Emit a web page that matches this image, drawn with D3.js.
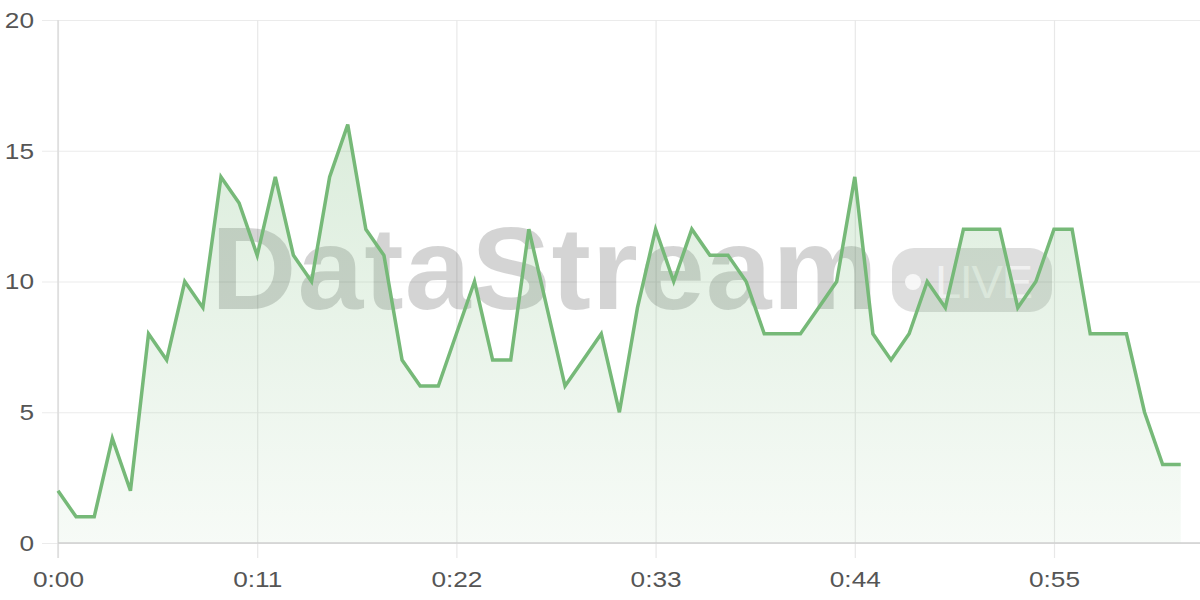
<!DOCTYPE html>
<html>
<head>
<meta charset="utf-8">
<script src="https://cdn.jsdelivr.net/npm/d3@7"></script>
<style>
  html, body { margin: 0; padding: 0; background: #fff; }
  svg { display: block; font-family: "Liberation Sans", Arial, Helvetica, sans-serif; }
</style>
</head>
<body>
<svg id="chart" width="1200" height="600"></svg>
<script>
// seconds since start
const seconds = d3.range(0, 63);
const values = [2, 1, 1, 4, 2, 8, 7, 10, 9, 14, 13, 11, 14, 11, 10, 14, 16, 12, 11, 7,
                6, 6, 8, 10, 7, 7, 12, 9, 6, 7, 8, 5, 9, 12, 10, 12, 11, 11, 10, 8,
                8, 8, 9, 10, 14, 8, 7, 8, 10, 9, 12, 12, 12, 9, 10, 12, 12, 8, 8, 8,
                5, 3, 3];
const xTicks = [0, 11, 22, 33, 44, 55];
const yTicks = [0, 5, 10, 15, 20];
const watermarkText = "DataStream";
const badgeText = "LIVE";

const data = seconds.map((s, i) => ({ s, v: values[i] }));

const svg = d3.select("#chart");
const x = d3.scaleLinear().domain([0, 63]).range([58, 58 + 63 * 18.109]);
const y = d3.scaleLinear().domain([0, 20]).range([543, 20]);

const fmt = s => Math.floor(s / 60) + ":" + String(s % 60).padStart(2, "0");
const stretch = 1.22;

// gradient
const defs = svg.append("defs");
const grad = defs.append("linearGradient").attr("id", "fillGrad")
  .attr("x1", 0).attr("y1", 0).attr("x2", 0).attr("y2", 1);
grad.append("stop").attr("offset", "0%").attr("stop-color", "rgb(118,185,120)").attr("stop-opacity", 0.26);
grad.append("stop").attr("offset", "100%").attr("stop-color", "rgb(118,185,120)").attr("stop-opacity", 0.06);

// horizontal grid (y axis)
const yAxis = d3.axisLeft(y).tickValues(yTicks).tickSize(-(1200 - 58)).tickPadding(24).tickFormat(d3.format("d"));
const gy = svg.append("g").attr("transform", "translate(58,0)").call(yAxis);
gy.select(".domain").remove();
gy.selectAll(".tick line").attr("stroke", "#ebebeb").attr("stroke-width", 1.2).attr("x1", -16);
gy.selectAll(".tick text").attr("fill", "#555").attr("font-size", 21.5)
  .attr("x", 0).attr("dy", "0.34em")
  .attr("transform", `translate(-24,0) scale(${stretch},1)`);

// vertical grid (x axis)
const xAxis = d3.axisBottom(x).tickValues(xTicks).tickSize(-(543 - 20)).tickPadding(28).tickFormat(fmt);
const gx = svg.append("g").attr("transform", "translate(0,543)").call(xAxis);
gx.select(".domain").remove();
gx.selectAll(".tick line").attr("stroke", "#e8e8e8").attr("stroke-width", 1.2).attr("y2", -(543 - 20)).attr("y1", 15);
gx.selectAll(".tick text").attr("fill", "#555").attr("font-size", 21.5).attr("y", 44).attr("dy", 0)
  .attr("transform", `scale(${stretch},1)`);

// y-axis line
svg.append("line").attr("x1", 58).attr("x2", 58).attr("y1", 20).attr("y2", 558)
  .attr("stroke", "#dcdcdc").attr("stroke-width", 1.5);

// watermark
const wm = svg.append("g").attr("class", "watermark");
wm.append("text").attr("x", 0).attr("y", 0)
  .attr("transform", "translate(211,309) scale(1.02,1)")
  .attr("font-size", 116).attr("font-weight", "bold").attr("fill", "rgba(0,0,0,0.17)")
  .attr("letter-spacing", 1)
  .text(watermarkText);
wm.append("rect").attr("x", 892).attr("y", 248).attr("width", 160).attr("height", 64).attr("rx", 22)
  .attr("fill", "rgba(0,0,0,0.13)");
wm.append("circle").attr("cx", 913).attr("cy", 282).attr("r", 8).attr("fill", "rgba(255,255,255,0.75)");
wm.append("text").attr("x", 935).attr("y", 298).attr("font-size", 47).attr("fill", "rgba(255,255,255,0.6)")
  .attr("textLength", 98).text(badgeText);

// area
const area = d3.area().x(d => x(d.s)).y0(y(0)).y1(d => y(d.v));
svg.append("path").datum(data).attr("d", area).attr("fill", "url(#fillGrad)");

// x-axis line
svg.append("line").attr("x1", 58).attr("x2", 1200).attr("y1", 543).attr("y2", 543)
  .attr("stroke", "#cfcfcf").attr("stroke-width", 1.5);

// line
const line = d3.line().x(d => x(d.s)).y(d => y(d.v));
svg.append("path").datum(data).attr("d", line)
  .attr("fill", "none").attr("stroke", "rgb(118,185,120)").attr("stroke-width", 3.5)
  .attr("stroke-linejoin", "miter");
</script>
</body>
</html>
